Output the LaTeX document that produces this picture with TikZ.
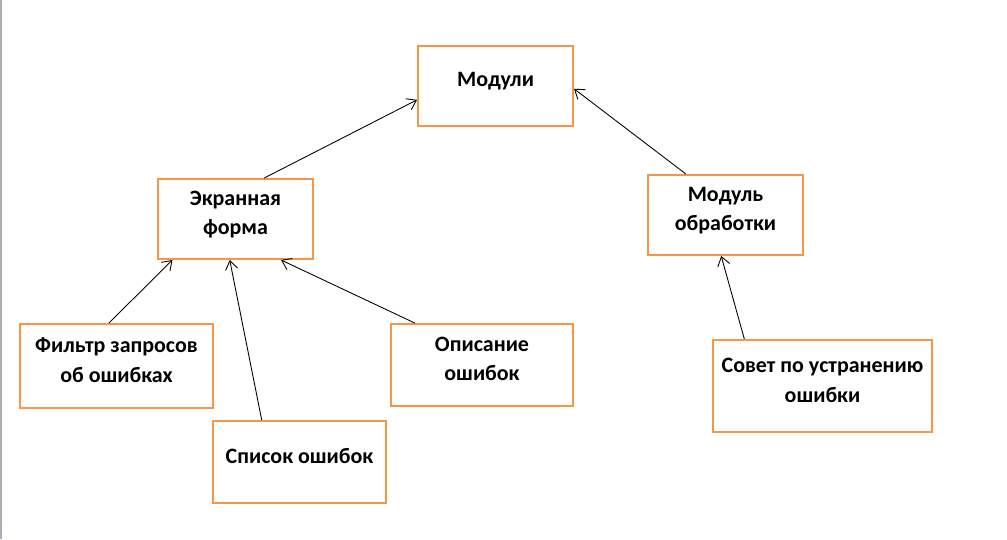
\documentclass[tikz,border=0pt]{standalone}
\usepackage{fontspec}
\setmainfont{Carlito}
\usetikzlibrary{arrows.meta}
\definecolor{boxorange}{HTML}{F79646}
\definecolor{edgegray}{HTML}{A8AFB8}
\begin{document}
\begin{tikzpicture}[x=0.02cm, y=-0.02cm,
    box/.style={draw=boxorange, line width=1.1pt, align=center,
      font=\fontsize{12.5}{17}\selectfont\bfseries, inner sep=0pt,
      execute at end node={\rule[-7pt]{0pt}{7pt}}},
    link/.style={-{Straight Barb[length=5pt,width=7pt]}, line width=0.5pt}]
  \useasboundingbox (0,0) rectangle (1007,539);
  \draw[edgegray, line width=1.1pt] (1,0) -- (1,539);
  \node[box, minimum width=155*0.02cm, minimum height=80*0.02cm] (modul) at (495.5,86) {Модули};
  \node[box, minimum width=155*0.02cm, minimum height=80*0.02cm] (ekran) at (235.5,219) {Экранная\\форма};
  \node[box, minimum width=155*0.02cm, minimum height=80*0.02cm] (obrab) at (725.5,215) {Модуль\\обработки};
  \node[box, minimum width=193*0.02cm, minimum height=84*0.02cm] (filtr) at (116.5,366) {Фильтр запросов\\об ошибках};
  \node[box, minimum width=173*0.02cm, minimum height=82*0.02cm] (spisok) at (299.5,462) {Список ошибок};
  \node[box, minimum width=182*0.02cm, minimum height=82*0.02cm] (opis) at (482,365) {Описание\\ошибок};
  \node[box, minimum width=219*0.02cm, minimum height=92*0.02cm] (sovet) at (822.5,386) {Совет по устранению\\ошибки};
  \draw[link] (ekran.55) -- (modul.190);
  \draw[link] (obrab.134) -- (modul.-2);
  \draw[link] (filtr.100) -- (ekran.213);
  \draw[link] (spisok.132) -- (ekran.262);
  \draw[link] (opis.148) -- (ekran.318);
  \draw[link] (sovet.149) -- (obrab.264);
\end{tikzpicture}
\end{document}
